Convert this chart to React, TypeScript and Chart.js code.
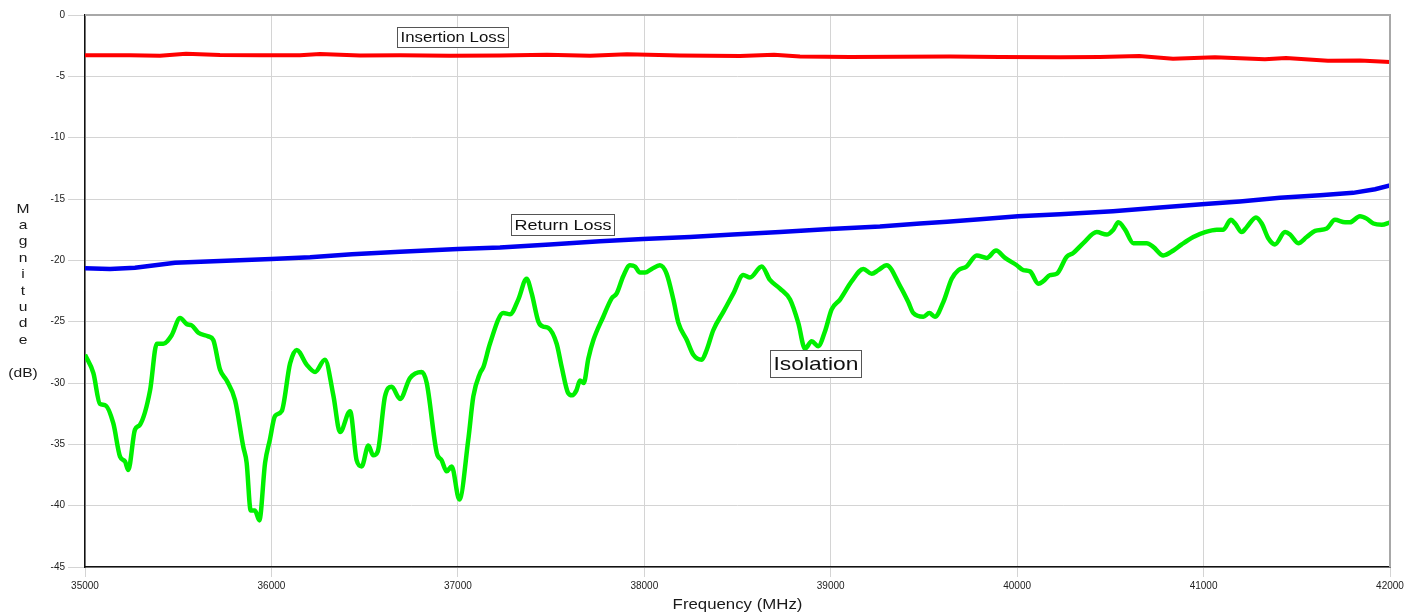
import React, { useEffect, useRef } from "react";
import { Chart, registerables } from "chart.js";

Chart.register(...registerables);

// ---- Data (Frequency MHz / Magnitude dB) ----
const isoFreq = [
  35000, 35045, 35080, 35107, 35152, 35188, 35215, 35232, 35268, 35295, 35349, 35385, 35420, 35465, 35510,
  35546, 35572, 35608, 35661, 35688, 35724, 35760, 35805, 35849, 35867, 35889, 35912, 35935, 35966, 35992,
  36019, 36055, 36100, 36136, 36189, 36234, 36287, 36332, 36368, 36422, 36457, 36484, 36520, 36546, 36570,
  36609, 36645, 36690, 36743, 36806, 36833, 36887, 36913, 36940, 36967, 37008, 37056, 37083, 37119, 37137,
  37172, 37244, 37280, 37324, 37369, 37396, 37432, 37458, 37485, 37530, 37557, 37591, 37613, 37636, 37655,
  37675, 37700, 37727, 37780, 37825, 37852, 37887, 37923, 37950, 37977, 38004, 38040, 38084, 38120, 38156,
  38183, 38228, 38263, 38308, 38335, 38370, 38424, 38478, 38531, 38567, 38630, 38674, 38728, 38782, 38826,
  38862, 38898, 38933, 38969, 39005, 39050, 39113, 39175, 39220, 39255, 39300, 39372, 39416, 39443, 39497,
  39529, 39559, 39604, 39649, 39685, 39729, 39783, 39837, 39887, 39935, 39998, 40033, 40069, 40114, 40140,
  40176, 40212, 40266, 40301, 40355, 40427, 40480, 40516, 40543, 40579, 40623, 40695, 40730, 40784, 40838,
  40883, 40945, 41008, 41071, 41106, 41146, 41169, 41205, 41231, 41281, 41312, 41347, 41383, 41437, 41464,
  41508, 41553, 41598, 41661, 41705, 41759, 41785, 41839, 41875, 41911, 41956, 42000,
];
const isoDb = [
  -27.7, -29.2, -31.7, -31.8, -33.3, -36.0, -36.4, -37.1, -33.8, -33.4, -30.6, -26.8, -26.8, -26.1, -24.7,
  -25.2, -25.3, -25.9, -26.2, -26.5, -28.9, -29.8, -31.4, -35.2, -36.5, -40.4, -40.4, -41.2, -36.5, -34.6,
  -32.7, -32.3, -28.4, -27.3, -28.5, -29.1, -28.1, -31.0, -34.0, -32.3, -36.3, -36.8, -35.1, -35.9, -35.6,
  -31.1, -30.3, -31.3, -29.6, -29.1, -30.0, -35.7, -36.3, -37.2, -36.8, -39.5, -34.6, -31.1, -29.2, -28.7,
  -26.8, -24.3, -24.4, -23.2, -21.5, -22.7, -25.0, -25.4, -25.5, -26.8, -28.7, -30.8, -31.0, -30.6, -29.8,
  -30.0, -28.0, -26.5, -24.6, -23.1, -22.7, -21.3, -20.4, -20.5, -21.0, -21.0, -20.7, -20.4, -21.1, -23.2,
  -25.1, -26.5, -27.7, -28.1, -27.3, -25.7, -24.2, -22.7, -21.2, -21.4, -20.5, -21.6, -22.3, -23.2, -25.1,
  -27.2, -26.6, -27.0, -25.8, -24.0, -23.2, -21.7, -20.7, -21.1, -20.8, -20.4, -22.1, -23.4, -24.3, -24.6,
  -24.3, -24.6, -23.4, -21.5, -20.8, -20.5, -19.6, -19.8, -19.2, -19.8, -20.4, -20.8, -20.9, -21.9, -21.7,
  -21.2, -21.1, -19.7, -19.4, -18.6, -17.7, -17.9, -17.5, -16.9, -17.5, -18.6, -18.6, -18.9, -19.6, -19.2,
  -18.7, -18.1, -17.7, -17.5, -17.5, -16.7, -17.0, -17.7, -17.3, -16.5, -17.0, -18.2, -18.7, -17.7, -17.9,
  -18.6, -18.1, -17.6, -17.4, -16.7, -16.9, -16.9, -16.4, -16.6, -17.0, -17.1, -16.9,
];

const rlFreq = [
  35000, 35134, 35268, 35483, 35724, 35999, 36207, 36432, 36690, 37001, 37226, 37494, 37762, 37993, 38245,
  38476, 38728, 38996, 39264, 39479, 39624, 39801, 40005, 40230, 40514, 40766, 41008, 41195, 41410, 41625,
  41802, 41920, 42000,
];
const rlDb = [
  -20.65, -20.7, -20.6, -20.2, -20.05, -19.9, -19.75, -19.5, -19.3, -19.07, -18.95, -18.7, -18.45, -18.26, -18.1,
  -17.9, -17.7, -17.45, -17.25, -17.0, -16.85, -16.65, -16.4, -16.25, -16.0, -15.7, -15.4, -15.2, -14.9, -14.7,
  -14.5, -14.2, -13.9,
];

const ilFreq = [
  35000, 35241, 35402, 35542, 35724, 35939, 36153, 36261, 36475, 36690, 36958, 37226, 37478, 37709, 37907,
  38191, 38513, 38696, 38835, 39104, 39372, 39640, 39908, 40230, 40444, 40654, 40836, 41061, 41329, 41442,
  41667, 41839, 42000,
];
const ilDb = [
  -3.29, -3.29, -3.33, -3.15, -3.26, -3.29, -3.29, -3.18, -3.3, -3.29, -3.33, -3.3, -3.24, -3.33, -3.2,
  -3.3, -3.34, -3.24, -3.38, -3.42, -3.41, -3.38, -3.42, -3.45, -3.42, -3.34, -3.56, -3.45, -3.61, -3.51,
  -3.72, -3.71, -3.83,
];

const xTickValues = [35000, 36000, 37000, 38000, 39000, 40000, 41000, 42000];
const yTickValues = [0, -5, -10, -15, -20, -25, -30, -35, -40, -45];

const noteTexts = ["Insertion Loss", "Return Loss", "Isolation"];
const noteFreq = [36674, 37283, 38674];
const noteDb = [-1.0, -16.22, -27.35];
const noteSize = [14, 15, 19];

const xTitle = "Frequency (MHz)";
const yTitleLetters = ["M", "a", "g", "n", "i", "t", "u", "d", "e"];
const yTitleUnit = "(dB)";

const FONT = "Arial, 'Liberation Sans', sans-serif";
const SX = 1.2;

const overlayPlugin = {
  id: "overlay",
  afterDatasetsDraw(chart: any) {
    const { ctx, chartArea: a, scales } = chart;
    const x = scales.x;
    const y = scales.y;
    ctx.save();
    ctx.strokeStyle = "#a8a8a8";
    ctx.lineWidth = 2;
    ctx.beginPath();
    ctx.moveTo(a.left, a.top);
    ctx.lineTo(a.right, a.top);
    ctx.lineTo(a.right, a.bottom);
    ctx.stroke();

    for (let i = 0; i < noteTexts.length; i++) {
      const size = noteSize[i];
      ctx.font = `${size}px ${FONT}`;
      const tw = ctx.measureText(noteTexts[i]).width * SX;
      const padX = 3;
      const bw = Math.round(tw + padX * 2);
      const bh = Math.round(size * 1.4);
      const px = Math.round(x.getPixelForValue(noteFreq[i]));
      const py = Math.round(y.getPixelForValue(noteDb[i]));
      ctx.fillStyle = "#ffffff";
      ctx.fillRect(px, py, bw, bh);
      ctx.strokeStyle = "#555555";
      ctx.lineWidth = 1;
      ctx.strokeRect(px + 0.5, py + 0.5, bw, bh);
      ctx.fillStyle = "#111111";
      ctx.textBaseline = "middle";
      ctx.textAlign = "left";
      ctx.save();
      ctx.translate(px + padX + 0.5, py + bh / 2 + 1);
      ctx.scale(SX, 1);
      ctx.fillText(noteTexts[i], 0, 0);
      ctx.restore();
    }
    ctx.restore();
  },
  afterDraw(chart: any) {
    const { ctx, chartArea: a } = chart;
    ctx.save();
    ctx.fillStyle = "#1a1a1a";
    ctx.textBaseline = "middle";
    ctx.textAlign = "center";
    ctx.font = `14px ${FONT}`;
    ctx.save();
    ctx.translate((a.left + a.right) / 2, a.bottom + 38);
    ctx.scale(SX, 1);
    ctx.fillText(xTitle, 0, 0);
    ctx.restore();
    ctx.font = `13px ${FONT}`;
    const cx = 23;
    let cy = a.top + 194;
    for (const ch of yTitleLetters) {
      ctx.save();
      ctx.translate(cx, cy);
      ctx.scale(SX, 1);
      ctx.fillText(ch, 0, 0);
      ctx.restore();
      cy += 16.4;
    }
    ctx.save();
    ctx.translate(cx, a.top + 358);
    ctx.scale(SX, 1);
    ctx.fillText(yTitleUnit, 0, 0);
    ctx.restore();
    ctx.restore();
  },
};

function toPoints(xs: number[], ys: number[]) {
  return xs.map((v, i) => ({ x: v, y: ys[i] }));
}

export default function App() {
  const canvasRef = useRef<HTMLCanvasElement | null>(null);

  useEffect(() => {
    document.body.style.margin = "0";
    const canvas = canvasRef.current;
    if (!canvas) return;
    const chart = new Chart(canvas, {
      type: "line",
      data: {
        datasets: [
          {
            label: "Isolation",
            data: toPoints(isoFreq, isoDb),
            borderColor: "#00f000",
            borderWidth: 4.5,
            pointRadius: 0,
            cubicInterpolationMode: "monotone",
            fill: false,
          },
          {
            label: "Return Loss",
            data: toPoints(rlFreq, rlDb),
            borderColor: "#0000f0",
            borderWidth: 4.5,
            pointRadius: 0,
            tension: 0,
            fill: false,
          },
          {
            label: "Insertion Loss",
            data: toPoints(ilFreq, ilDb),
            borderColor: "#ff0000",
            borderWidth: 4,
            pointRadius: 0,
            tension: 0,
            fill: false,
          },
        ],
      },
      options: {
        responsive: false,
        maintainAspectRatio: false,
        devicePixelRatio: 1,
        animation: false,
        layout: { padding: { left: 0, top: 15, right: 24, bottom: 0 } },
        plugins: {
          legend: { display: false },
          tooltip: { enabled: false },
          title: { display: false },
        },
        scales: {
          x: {
            type: "linear",
            min: 35000,
            max: 42000,
            afterFit: (s: any) => {
              s.height = 45;
            },
            afterBuildTicks: (s: any) => {
              s.ticks = xTickValues.map((v) => ({ value: v }));
            },
            ticks: {
              callback: (v: any) => String(v),
              color: "#222222",
              font: { size: 10, family: FONT },
              padding: 3,
              maxRotation: 0,
              autoSkip: false,
            },
            grid: { color: "#d4d4d4", lineWidth: 1, tickLength: 10 },
            border: { color: "#111111", width: 1.5 },
          },
          y: {
            type: "linear",
            min: -45,
            max: 0,
            afterFit: (s: any) => {
              s.width = 85;
            },
            afterBuildTicks: (s: any) => {
              s.ticks = yTickValues.map((v) => ({ value: v }));
            },
            ticks: {
              callback: (v: any) => String(v),
              color: "#222222",
              font: { size: 10, family: FONT },
              padding: 3,
              autoSkip: false,
            },
            grid: { color: "#d4d4d4", lineWidth: 1, tickLength: 17 },
            border: { color: "#111111", width: 1.5 },
          },
        },
      },
      plugins: [overlayPlugin],
    });
    return () => chart.destroy();
  }, []);

  return (
    <div style={{ width: 1414, height: 612, background: "#ffffff" }}>
      <canvas ref={canvasRef} width={1414} height={612} style={{ display: "block" }} />
    </div>
  );
}
